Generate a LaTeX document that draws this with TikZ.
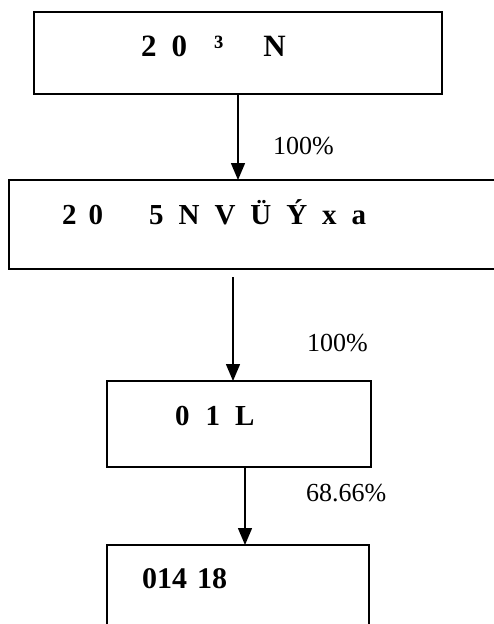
\documentclass[tikz,border=0pt]{standalone}
\usepackage{fontspec}
\setmainfont{Liberation Serif}
\usetikzlibrary{positioning}
\usetikzlibrary {arrows.meta}

\tikzset{
    box/.style={draw=black,line width=2pt,rectangle,inner sep=0pt,outer sep=0pt},
    boxtext/.style={anchor=base west,inner sep=0pt,font=\bfseries},
    rate/.style={anchor=base west,inner sep=0pt,font=\fontsize{26pt}{30pt}\selectfont},
    arr/.style={line width=1.5pt,-{Triangle[width=14pt,length=17pt]}}
}

\begin{document}
\begin{tikzpicture}[x=1pt,y=-1pt]
    \useasboundingbox (0,0) rectangle (494,624);
    \clip (0,0) rectangle (494,624);
    %% 方框
    \node[box,minimum width=408pt,minimum height=82pt] (b1) at (238,53){};
    \node[box,minimum width=511pt,minimum height=89pt] (b2) at (264.5,224.5){};
    \node[box,minimum width=264pt,minimum height=86pt] (b3) at (239,424){};
    \node[box,minimum width=262pt,minimum height=105pt] (b4) at (238,597.5){};
    %% 文字
    \node[boxtext,font=\bfseries\fontsize{31pt}{34pt}\selectfont] (t1) at (141,56)
    {2\hspace{15pt}0\hspace{27pt}³\hspace{40pt}N};
    \node[boxtext,font=\bfseries\fontsize{29pt}{33pt}\selectfont] (t2) at (62,224)
    {2\hspace{12pt}0\hspace{46pt}\makebox[217pt][s]{5 N V Ü Ý x a}};
    \node[boxtext,font=\bfseries\fontsize{29pt}{33pt}\selectfont] (t3) at (175,425)
    {0\hspace{16pt}1\hspace{15pt}L};
    \node[boxtext,font=\bfseries\fontsize{30pt}{34pt}\selectfont] (t4) at (142,588)
    {014\hspace{10pt}18};
    % 箭头
    \coordinate (a2) at (233,277);
    \coordinate[right=6pt of b3.south] (a3);
    \draw[arr] (b1.south) -- (b1.south |- b2.north);
    \draw[arr] (a2) -- (a2 |- b3.north);
    \draw[arr] (a3) -- (a3 |- b4.north);
    % 比例
    \node[rate] (r1) at (273,154){100\%};
    \node[rate] (r2) at (307,351){100\%};
    \node[rate] (r3) at (306,501){68.66\%};
\end{tikzpicture}
\end{document}
